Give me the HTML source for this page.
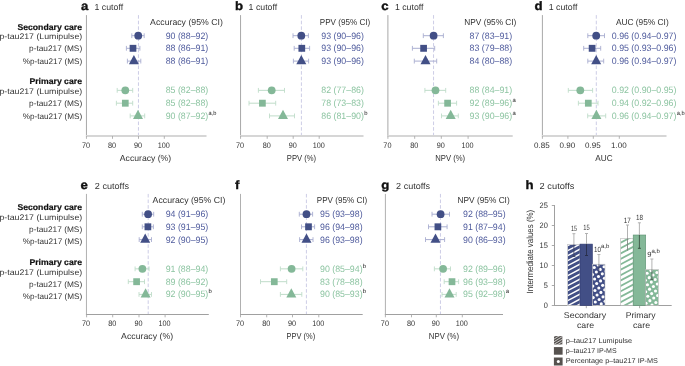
<!DOCTYPE html>
<html><head><meta charset="utf-8"><title>Figure</title>
<style>html,body{margin:0;padding:0;background:#fff;} body{width:685px;height:366px;overflow:hidden;font-family:"Liberation Sans", sans-serif;} svg{display:block;will-change:transform;}</style>
</head><body>
<svg width="685" height="366" viewBox="0 0 685 366" font-family='"Liberation Sans", sans-serif' text-rendering="geometricPrecision">
<rect width="685" height="366" fill="#fff"/><defs><clipPath id="cb1"><rect x="567.5" y="244.4" width="12.50" height="61.10"/></clipPath><clipPath id="cb3"><rect x="592.4" y="264.2" width="12.60" height="41.30"/></clipPath><clipPath id="cg1"><rect x="620.7" y="238.3" width="12.50" height="67.20"/></clipPath><clipPath id="cg3"><rect x="645.7" y="269.6" width="12.80" height="35.90"/></clipPath><clipPath id="cl1"><rect x="553.9" y="336.1" width="8.70" height="8.60"/></clipPath></defs>
<line x1="138.45" y1="15.1" x2="138.45" y2="136.0" stroke="#cdcde6" stroke-width="1" stroke-dasharray="3.6 2.0"/>
<line x1="86.45" y1="15.1" x2="86.45" y2="136.0" stroke="#a8a8a8" stroke-width="1.0"/>
<line x1="85.95" y1="136.0" x2="206.5" y2="136.0" stroke="#d6d6d6" stroke-width="2.0"/>
<line x1="86.45" y1="136.0" x2="86.45" y2="138.8" stroke="#aaaaaa" stroke-width="0.9"/>
<text x="85.95" y="147.7" font-size="8.0" fill="#333333" text-anchor="middle" textLength="8.1" lengthAdjust="spacingAndGlyphs">70</text>
<line x1="112.5" y1="136.0" x2="112.5" y2="138.8" stroke="#aaaaaa" stroke-width="0.9"/>
<text x="112.0" y="147.7" font-size="8.0" fill="#333333" text-anchor="middle" textLength="8.1" lengthAdjust="spacingAndGlyphs">80</text>
<line x1="138.5" y1="136.0" x2="138.5" y2="138.8" stroke="#aaaaaa" stroke-width="0.9"/>
<text x="138.0" y="147.7" font-size="8.0" fill="#333333" text-anchor="middle" textLength="8.1" lengthAdjust="spacingAndGlyphs">90</text>
<line x1="164.3" y1="136.0" x2="164.3" y2="138.8" stroke="#aaaaaa" stroke-width="0.9"/>
<text x="163.8" y="147.7" font-size="8.0" fill="#333333" text-anchor="middle" textLength="12.1" lengthAdjust="spacingAndGlyphs">100</text>
<text x="145.5" y="160.5" font-size="8.6" fill="#333333" text-anchor="middle" textLength="51.3" lengthAdjust="spacingAndGlyphs">Accuracy (%)</text>
<text x="80.9" y="9.5" font-size="12" fill="#111111" font-weight="700" textLength="7.34" lengthAdjust="spacingAndGlyphs" stroke="#111" stroke-width="0.35">a</text>
<text x="94.5" y="9.5" font-size="8.7" fill="#333333" textLength="28.6" lengthAdjust="spacingAndGlyphs">1 cutoff</text>
<text x="150.1" y="25.2" font-size="8.7" fill="#333333" textLength="72.7" lengthAdjust="spacingAndGlyphs">Accuracy (95% CI)</text>
<line x1="131.8" y1="35.7" x2="144.2" y2="35.7" stroke="#a9aed0" stroke-width="1"/>
<line x1="131.8" y1="33.300000000000004" x2="131.8" y2="38.1" stroke="#a9aed0" stroke-width="0.9"/>
<line x1="144.2" y1="33.300000000000004" x2="144.2" y2="38.1" stroke="#a9aed0" stroke-width="0.9"/>
<circle cx="138.25" cy="35.7" r="3.9" fill="#424f86"/>
<text x="165.7" y="38.7" font-size="9.2" fill="#4e5a9c" textLength="42.57" lengthAdjust="spacingAndGlyphs">90 (88–92)</text>
<line x1="126.4" y1="48.3" x2="139.9" y2="48.3" stroke="#a9aed0" stroke-width="1"/>
<line x1="126.4" y1="45.9" x2="126.4" y2="50.699999999999996" stroke="#a9aed0" stroke-width="0.9"/>
<line x1="139.9" y1="45.9" x2="139.9" y2="50.699999999999996" stroke="#a9aed0" stroke-width="0.9"/>
<rect x="129.65" y="44.85" width="6.7" height="6.9" fill="#424f86"/>
<text x="165.7" y="51.4" font-size="9.2" fill="#4e5a9c" textLength="42.57" lengthAdjust="spacingAndGlyphs">88 (86–91)</text>
<line x1="127.4" y1="61.1" x2="140.8" y2="61.1" stroke="#a9aed0" stroke-width="1"/>
<line x1="127.4" y1="58.7" x2="127.4" y2="63.5" stroke="#a9aed0" stroke-width="0.9"/>
<line x1="140.8" y1="58.7" x2="140.8" y2="63.5" stroke="#a9aed0" stroke-width="0.9"/>
<polygon points="128.90,64.20 138.90,64.20 133.90,54.90" fill="#424f86"/>
<text x="165.7" y="64.2" font-size="9.2" fill="#4e5a9c" textLength="42.57" lengthAdjust="spacingAndGlyphs">88 (86–91)</text>
<line x1="117.2" y1="90.35" x2="132.7" y2="90.35" stroke="#bfdcc9" stroke-width="1"/>
<line x1="117.2" y1="87.94999999999999" x2="117.2" y2="92.75" stroke="#bfdcc9" stroke-width="0.9"/>
<line x1="132.7" y1="87.94999999999999" x2="132.7" y2="92.75" stroke="#bfdcc9" stroke-width="0.9"/>
<circle cx="125.3" cy="90.35" r="3.9" fill="#84b898"/>
<text x="165.7" y="93.3" font-size="9.2" fill="#8cc4a1" textLength="42.57" lengthAdjust="spacingAndGlyphs">85 (82–88)</text>
<line x1="116.4" y1="103.2" x2="132.7" y2="103.2" stroke="#bfdcc9" stroke-width="1"/>
<line x1="116.4" y1="100.8" x2="116.4" y2="105.60000000000001" stroke="#bfdcc9" stroke-width="0.9"/>
<line x1="132.7" y1="100.8" x2="132.7" y2="105.60000000000001" stroke="#bfdcc9" stroke-width="0.9"/>
<rect x="121.95" y="99.75" width="6.7" height="6.9" fill="#84b898"/>
<text x="165.7" y="106.0" font-size="9.2" fill="#8cc4a1" textLength="42.57" lengthAdjust="spacingAndGlyphs">85 (82–88)</text>
<line x1="130.2" y1="115.9" x2="144.7" y2="115.9" stroke="#bfdcc9" stroke-width="1"/>
<line x1="130.2" y1="113.5" x2="130.2" y2="118.30000000000001" stroke="#bfdcc9" stroke-width="0.9"/>
<line x1="144.7" y1="113.5" x2="144.7" y2="118.30000000000001" stroke="#bfdcc9" stroke-width="0.9"/>
<polygon points="133.00,119.00 143.00,119.00 138.00,109.70" fill="#84b898"/>
<text x="165.7" y="118.7" font-size="9.2" fill="#8cc4a1" textLength="42.57" lengthAdjust="spacingAndGlyphs">90 (87–92)</text>
<text x="208.57" y="114.8" font-size="5.9" fill="#222" textLength="7.9" lengthAdjust="spacingAndGlyphs">a,b</text>
<line x1="301.4" y1="15.1" x2="301.4" y2="136.0" stroke="#cdcde6" stroke-width="1" stroke-dasharray="3.6 2.0"/>
<line x1="240.55" y1="15.1" x2="240.55" y2="136.0" stroke="#a8a8a8" stroke-width="1.0"/>
<line x1="240.05" y1="136.0" x2="363.5" y2="136.0" stroke="#d6d6d6" stroke-width="2.0"/>
<line x1="240.55" y1="136.0" x2="240.55" y2="138.8" stroke="#aaaaaa" stroke-width="0.9"/>
<text x="240.05" y="147.7" font-size="8.0" fill="#333333" text-anchor="middle" textLength="8.1" lengthAdjust="spacingAndGlyphs">70</text>
<line x1="267.2" y1="136.0" x2="267.2" y2="138.8" stroke="#aaaaaa" stroke-width="0.9"/>
<text x="266.7" y="147.7" font-size="8.0" fill="#333333" text-anchor="middle" textLength="8.1" lengthAdjust="spacingAndGlyphs">80</text>
<line x1="293.2" y1="136.0" x2="293.2" y2="138.8" stroke="#aaaaaa" stroke-width="0.9"/>
<text x="292.7" y="147.7" font-size="8.0" fill="#333333" text-anchor="middle" textLength="8.1" lengthAdjust="spacingAndGlyphs">90</text>
<line x1="319.2" y1="136.0" x2="319.2" y2="138.8" stroke="#aaaaaa" stroke-width="0.9"/>
<text x="318.7" y="147.7" font-size="8.0" fill="#333333" text-anchor="middle" textLength="12.1" lengthAdjust="spacingAndGlyphs">100</text>
<text x="301.5" y="160.5" font-size="8.6" fill="#333333" text-anchor="middle" textLength="29.3" lengthAdjust="spacingAndGlyphs">PPV (%)</text>
<text x="234.9" y="9.5" font-size="12" fill="#111111" font-weight="700" textLength="8.06" lengthAdjust="spacingAndGlyphs" stroke="#111" stroke-width="0.35">b</text>
<text x="248.6" y="9.5" font-size="8.7" fill="#333333" textLength="28.6" lengthAdjust="spacingAndGlyphs">1 cutoff</text>
<text x="319.8" y="25.2" font-size="8.7" fill="#333333" textLength="50.4" lengthAdjust="spacingAndGlyphs">PPV (95% CI)</text>
<line x1="293.0" y1="35.7" x2="308.4" y2="35.7" stroke="#a9aed0" stroke-width="1"/>
<line x1="293.0" y1="33.300000000000004" x2="293.0" y2="38.1" stroke="#a9aed0" stroke-width="0.9"/>
<line x1="308.4" y1="33.300000000000004" x2="308.4" y2="38.1" stroke="#a9aed0" stroke-width="0.9"/>
<circle cx="301.3" cy="35.7" r="3.9" fill="#424f86"/>
<text x="321.3" y="38.7" font-size="9.2" fill="#4e5a9c" textLength="42.57" lengthAdjust="spacingAndGlyphs">93 (90–96)</text>
<line x1="294.2" y1="48.3" x2="309.6" y2="48.3" stroke="#a9aed0" stroke-width="1"/>
<line x1="294.2" y1="45.9" x2="294.2" y2="50.699999999999996" stroke="#a9aed0" stroke-width="0.9"/>
<line x1="309.6" y1="45.9" x2="309.6" y2="50.699999999999996" stroke="#a9aed0" stroke-width="0.9"/>
<rect x="298.45" y="44.85" width="6.7" height="6.9" fill="#424f86"/>
<text x="321.3" y="51.4" font-size="9.2" fill="#4e5a9c" textLength="42.57" lengthAdjust="spacingAndGlyphs">93 (90–96)</text>
<line x1="293.4" y1="61.1" x2="308.6" y2="61.1" stroke="#a9aed0" stroke-width="1"/>
<line x1="293.4" y1="58.7" x2="293.4" y2="63.5" stroke="#a9aed0" stroke-width="0.9"/>
<line x1="308.6" y1="58.7" x2="308.6" y2="63.5" stroke="#a9aed0" stroke-width="0.9"/>
<polygon points="296.30,64.20 306.30,64.20 301.30,54.90" fill="#424f86"/>
<text x="321.3" y="64.2" font-size="9.2" fill="#4e5a9c" textLength="42.57" lengthAdjust="spacingAndGlyphs">93 (90–96)</text>
<line x1="258.4" y1="90.35" x2="284.5" y2="90.35" stroke="#bfdcc9" stroke-width="1"/>
<line x1="258.4" y1="87.94999999999999" x2="258.4" y2="92.75" stroke="#bfdcc9" stroke-width="0.9"/>
<line x1="284.5" y1="87.94999999999999" x2="284.5" y2="92.75" stroke="#bfdcc9" stroke-width="0.9"/>
<circle cx="271.7" cy="90.35" r="3.9" fill="#84b898"/>
<text x="321.3" y="93.3" font-size="9.2" fill="#8cc4a1" textLength="42.57" lengthAdjust="spacingAndGlyphs">82 (77–86)</text>
<line x1="249.0" y1="103.2" x2="275.7" y2="103.2" stroke="#bfdcc9" stroke-width="1"/>
<line x1="249.0" y1="100.8" x2="249.0" y2="105.60000000000001" stroke="#bfdcc9" stroke-width="0.9"/>
<line x1="275.7" y1="100.8" x2="275.7" y2="105.60000000000001" stroke="#bfdcc9" stroke-width="0.9"/>
<rect x="259.05" y="99.75" width="6.7" height="6.9" fill="#84b898"/>
<text x="321.3" y="106.0" font-size="9.2" fill="#8cc4a1" textLength="42.57" lengthAdjust="spacingAndGlyphs">78 (73–83)</text>
<line x1="269.5" y1="115.9" x2="294.5" y2="115.9" stroke="#bfdcc9" stroke-width="1"/>
<line x1="269.5" y1="113.5" x2="269.5" y2="118.30000000000001" stroke="#bfdcc9" stroke-width="0.9"/>
<line x1="294.5" y1="113.5" x2="294.5" y2="118.30000000000001" stroke="#bfdcc9" stroke-width="0.9"/>
<polygon points="278.00,119.00 288.00,119.00 283.00,109.70" fill="#84b898"/>
<text x="321.3" y="118.7" font-size="9.2" fill="#8cc4a1" textLength="42.57" lengthAdjust="spacingAndGlyphs">86 (81–90)</text>
<text x="364.17" y="114.8" font-size="5.9" fill="#222">b</text>
<line x1="433.55" y1="15.1" x2="433.55" y2="136.0" stroke="#cdcde6" stroke-width="1" stroke-dasharray="3.6 2.0"/>
<line x1="387.9" y1="15.1" x2="387.9" y2="136.0" stroke="#a8a8a8" stroke-width="1.0"/>
<line x1="387.4" y1="136.0" x2="512.7" y2="136.0" stroke="#d6d6d6" stroke-width="2.0"/>
<line x1="387.9" y1="136.0" x2="387.9" y2="138.8" stroke="#aaaaaa" stroke-width="0.9"/>
<text x="387.4" y="147.7" font-size="8.0" fill="#333333" text-anchor="middle" textLength="8.1" lengthAdjust="spacingAndGlyphs">70</text>
<line x1="414.7" y1="136.0" x2="414.7" y2="138.8" stroke="#aaaaaa" stroke-width="0.9"/>
<text x="414.2" y="147.7" font-size="8.0" fill="#333333" text-anchor="middle" textLength="8.1" lengthAdjust="spacingAndGlyphs">80</text>
<line x1="441.3" y1="136.0" x2="441.3" y2="138.8" stroke="#aaaaaa" stroke-width="0.9"/>
<text x="440.8" y="147.7" font-size="8.0" fill="#333333" text-anchor="middle" textLength="8.1" lengthAdjust="spacingAndGlyphs">90</text>
<line x1="468.1" y1="136.0" x2="468.1" y2="138.8" stroke="#aaaaaa" stroke-width="0.9"/>
<text x="467.6" y="147.7" font-size="8.0" fill="#333333" text-anchor="middle" textLength="12.1" lengthAdjust="spacingAndGlyphs">100</text>
<text x="450.2" y="160.5" font-size="8.6" fill="#333333" text-anchor="middle" textLength="29.9" lengthAdjust="spacingAndGlyphs">NPV (%)</text>
<text x="381.2" y="9.5" font-size="12" fill="#111111" font-weight="700" textLength="7.34" lengthAdjust="spacingAndGlyphs" stroke="#111" stroke-width="0.35">c</text>
<text x="394.9" y="9.5" font-size="8.7" fill="#333333" textLength="28.6" lengthAdjust="spacingAndGlyphs">1 cutoff</text>
<text x="464.3" y="25.2" font-size="8.7" fill="#333333" textLength="52.1" lengthAdjust="spacingAndGlyphs">NPV (95% CI)</text>
<line x1="423.3" y1="35.7" x2="443.4" y2="35.7" stroke="#a9aed0" stroke-width="1"/>
<line x1="423.3" y1="33.300000000000004" x2="423.3" y2="38.1" stroke="#a9aed0" stroke-width="0.9"/>
<line x1="443.4" y1="33.300000000000004" x2="443.4" y2="38.1" stroke="#a9aed0" stroke-width="0.9"/>
<circle cx="433.6" cy="35.7" r="3.9" fill="#424f86"/>
<text x="469.6" y="38.7" font-size="9.2" fill="#4e5a9c" textLength="42.57" lengthAdjust="spacingAndGlyphs">87 (83–91)</text>
<line x1="412.4" y1="48.3" x2="434.7" y2="48.3" stroke="#a9aed0" stroke-width="1"/>
<line x1="412.4" y1="45.9" x2="412.4" y2="50.699999999999996" stroke="#a9aed0" stroke-width="0.9"/>
<line x1="434.7" y1="45.9" x2="434.7" y2="50.699999999999996" stroke="#a9aed0" stroke-width="0.9"/>
<rect x="420.25" y="44.85" width="6.7" height="6.9" fill="#424f86"/>
<text x="469.6" y="51.4" font-size="9.2" fill="#4e5a9c" textLength="42.57" lengthAdjust="spacingAndGlyphs">83 (79–88)</text>
<line x1="414.3" y1="61.1" x2="436.7" y2="61.1" stroke="#a9aed0" stroke-width="1"/>
<line x1="414.3" y1="58.7" x2="414.3" y2="63.5" stroke="#a9aed0" stroke-width="0.9"/>
<line x1="436.7" y1="58.7" x2="436.7" y2="63.5" stroke="#a9aed0" stroke-width="0.9"/>
<polygon points="420.50,64.20 430.50,64.20 425.50,54.90" fill="#424f86"/>
<text x="469.6" y="64.2" font-size="9.2" fill="#4e5a9c" textLength="42.57" lengthAdjust="spacingAndGlyphs">84 (80–88)</text>
<line x1="424.9" y1="90.35" x2="445.7" y2="90.35" stroke="#bfdcc9" stroke-width="1"/>
<line x1="424.9" y1="87.94999999999999" x2="424.9" y2="92.75" stroke="#bfdcc9" stroke-width="0.9"/>
<line x1="445.7" y1="87.94999999999999" x2="445.7" y2="92.75" stroke="#bfdcc9" stroke-width="0.9"/>
<circle cx="435.5" cy="90.35" r="3.9" fill="#84b898"/>
<text x="469.6" y="93.3" font-size="9.2" fill="#8cc4a1" textLength="42.57" lengthAdjust="spacingAndGlyphs">88 (84–91)</text>
<line x1="438.4" y1="103.2" x2="456.6" y2="103.2" stroke="#bfdcc9" stroke-width="1"/>
<line x1="438.4" y1="100.8" x2="438.4" y2="105.60000000000001" stroke="#bfdcc9" stroke-width="0.9"/>
<line x1="456.6" y1="100.8" x2="456.6" y2="105.60000000000001" stroke="#bfdcc9" stroke-width="0.9"/>
<rect x="444.25" y="99.75" width="6.7" height="6.9" fill="#84b898"/>
<text x="469.6" y="106.0" font-size="9.2" fill="#8cc4a1" textLength="42.57" lengthAdjust="spacingAndGlyphs">92 (89–96)</text>
<text x="512.47" y="102.1" font-size="5.9" fill="#222">a</text>
<line x1="441.5" y1="115.9" x2="458.3" y2="115.9" stroke="#bfdcc9" stroke-width="1"/>
<line x1="441.5" y1="113.5" x2="441.5" y2="118.30000000000001" stroke="#bfdcc9" stroke-width="0.9"/>
<line x1="458.3" y1="113.5" x2="458.3" y2="118.30000000000001" stroke="#bfdcc9" stroke-width="0.9"/>
<polygon points="445.70,119.00 455.70,119.00 450.70,109.70" fill="#84b898"/>
<text x="469.6" y="118.7" font-size="9.2" fill="#8cc4a1" textLength="42.57" lengthAdjust="spacingAndGlyphs">93 (90–96)</text>
<text x="512.47" y="114.8" font-size="5.9" fill="#222">a</text>
<line x1="596.3" y1="15.1" x2="596.3" y2="136.0" stroke="#cdcde6" stroke-width="1" stroke-dasharray="3.6 2.0"/>
<line x1="542.4" y1="15.1" x2="542.4" y2="136.0" stroke="#a8a8a8" stroke-width="1.0"/>
<line x1="541.9" y1="136.0" x2="666.5" y2="136.0" stroke="#d6d6d6" stroke-width="2.0"/>
<line x1="542.4" y1="136.0" x2="542.4" y2="138.8" stroke="#aaaaaa" stroke-width="0.9"/>
<text x="541.9" y="147.7" font-size="8.0" fill="#333333" text-anchor="middle" textLength="15.6" lengthAdjust="spacingAndGlyphs">0.85</text>
<line x1="567.9" y1="136.0" x2="567.9" y2="138.8" stroke="#aaaaaa" stroke-width="0.9"/>
<text x="567.4" y="147.7" font-size="8.0" fill="#333333" text-anchor="middle" textLength="15.6" lengthAdjust="spacingAndGlyphs">0.90</text>
<line x1="593.3" y1="136.0" x2="593.3" y2="138.8" stroke="#aaaaaa" stroke-width="0.9"/>
<text x="592.8" y="147.7" font-size="8.0" fill="#333333" text-anchor="middle" textLength="15.6" lengthAdjust="spacingAndGlyphs">0.95</text>
<line x1="619.3" y1="136.0" x2="619.3" y2="138.8" stroke="#aaaaaa" stroke-width="0.9"/>
<text x="618.8" y="147.7" font-size="8.0" fill="#333333" text-anchor="middle" textLength="15.6" lengthAdjust="spacingAndGlyphs">1.00</text>
<text x="603.9" y="160.5" font-size="8.6" fill="#333333" text-anchor="middle" textLength="17.3" lengthAdjust="spacingAndGlyphs">AUC</text>
<text x="534.6" y="9.5" font-size="12" fill="#111111" font-weight="700" textLength="8.06" lengthAdjust="spacingAndGlyphs" stroke="#111" stroke-width="0.35">d</text>
<text x="548.8" y="9.5" font-size="8.7" fill="#333333" textLength="28.6" lengthAdjust="spacingAndGlyphs">1 cutoff</text>
<text x="615.9" y="25.2" font-size="8.7" fill="#333333" textLength="52.8" lengthAdjust="spacingAndGlyphs">AUC (95% CI)</text>
<line x1="587.8" y1="35.7" x2="604.5" y2="35.7" stroke="#a9aed0" stroke-width="1"/>
<line x1="587.8" y1="33.300000000000004" x2="587.8" y2="38.1" stroke="#a9aed0" stroke-width="0.9"/>
<line x1="604.5" y1="33.300000000000004" x2="604.5" y2="38.1" stroke="#a9aed0" stroke-width="0.9"/>
<circle cx="596.2" cy="35.7" r="3.9" fill="#424f86"/>
<text x="611.8" y="38.7" font-size="9.2" fill="#4e5a9c" textLength="64.58" lengthAdjust="spacingAndGlyphs">0.96 (0.94–0.97)</text>
<line x1="583.7" y1="48.3" x2="600.7" y2="48.3" stroke="#a9aed0" stroke-width="1"/>
<line x1="583.7" y1="45.9" x2="583.7" y2="50.699999999999996" stroke="#a9aed0" stroke-width="0.9"/>
<line x1="600.7" y1="45.9" x2="600.7" y2="50.699999999999996" stroke="#a9aed0" stroke-width="0.9"/>
<rect x="588.75" y="44.85" width="6.7" height="6.9" fill="#424f86"/>
<text x="611.8" y="51.4" font-size="9.2" fill="#4e5a9c" textLength="64.58" lengthAdjust="spacingAndGlyphs">0.95 (0.93–0.96)</text>
<line x1="587.8" y1="61.1" x2="603.7" y2="61.1" stroke="#a9aed0" stroke-width="1"/>
<line x1="587.8" y1="58.7" x2="587.8" y2="63.5" stroke="#a9aed0" stroke-width="0.9"/>
<line x1="603.7" y1="58.7" x2="603.7" y2="63.5" stroke="#a9aed0" stroke-width="0.9"/>
<polygon points="591.20,64.20 601.20,64.20 596.20,54.90" fill="#424f86"/>
<text x="611.8" y="64.2" font-size="9.2" fill="#4e5a9c" textLength="64.58" lengthAdjust="spacingAndGlyphs">0.96 (0.94–0.97)</text>
<line x1="568.3" y1="90.35" x2="592.6" y2="90.35" stroke="#bfdcc9" stroke-width="1"/>
<line x1="568.3" y1="87.94999999999999" x2="568.3" y2="92.75" stroke="#bfdcc9" stroke-width="0.9"/>
<line x1="592.6" y1="87.94999999999999" x2="592.6" y2="92.75" stroke="#bfdcc9" stroke-width="0.9"/>
<circle cx="580.3" cy="90.35" r="3.9" fill="#84b898"/>
<text x="611.8" y="93.3" font-size="9.2" fill="#8cc4a1" textLength="64.58" lengthAdjust="spacingAndGlyphs">0.92 (0.90–0.95)</text>
<line x1="578.4" y1="103.2" x2="598.0" y2="103.2" stroke="#bfdcc9" stroke-width="1"/>
<line x1="578.4" y1="100.8" x2="578.4" y2="105.60000000000001" stroke="#bfdcc9" stroke-width="0.9"/>
<line x1="598.0" y1="100.8" x2="598.0" y2="105.60000000000001" stroke="#bfdcc9" stroke-width="0.9"/>
<rect x="584.95" y="99.75" width="6.7" height="6.9" fill="#84b898"/>
<text x="611.8" y="106.0" font-size="9.2" fill="#8cc4a1" textLength="64.58" lengthAdjust="spacingAndGlyphs">0.94 (0.92–0.96)</text>
<line x1="587.7" y1="115.9" x2="605.7" y2="115.9" stroke="#bfdcc9" stroke-width="1"/>
<line x1="587.7" y1="113.5" x2="587.7" y2="118.30000000000001" stroke="#bfdcc9" stroke-width="0.9"/>
<line x1="605.7" y1="113.5" x2="605.7" y2="118.30000000000001" stroke="#bfdcc9" stroke-width="0.9"/>
<polygon points="591.40,119.00 601.40,119.00 596.40,109.70" fill="#84b898"/>
<text x="611.8" y="118.7" font-size="9.2" fill="#8cc4a1" textLength="64.58" lengthAdjust="spacingAndGlyphs">0.96 (0.94–0.97)</text>
<text x="676.68" y="114.8" font-size="5.9" fill="#222" textLength="7.9" lengthAdjust="spacingAndGlyphs">a,b</text>
<line x1="148.2" y1="193.9" x2="148.2" y2="314.5" stroke="#cdcde6" stroke-width="1" stroke-dasharray="3.6 2.0"/>
<line x1="86.45" y1="193.9" x2="86.45" y2="315.0" stroke="#b0b0b0" stroke-width="1.0"/>
<line x1="85.95" y1="314.5" x2="208.8" y2="314.5" stroke="#a0a0a0" stroke-width="1.0"/>
<line x1="86.6" y1="314.5" x2="86.6" y2="317.3" stroke="#aaaaaa" stroke-width="0.9"/>
<text x="86.1" y="325.8" font-size="8.0" fill="#333333" text-anchor="middle" textLength="8.1" lengthAdjust="spacingAndGlyphs">70</text>
<line x1="112.7" y1="314.5" x2="112.7" y2="317.3" stroke="#aaaaaa" stroke-width="0.9"/>
<text x="112.2" y="325.8" font-size="8.0" fill="#333333" text-anchor="middle" textLength="8.1" lengthAdjust="spacingAndGlyphs">80</text>
<line x1="139.0" y1="314.5" x2="139.0" y2="317.3" stroke="#aaaaaa" stroke-width="0.9"/>
<text x="138.5" y="325.8" font-size="8.0" fill="#333333" text-anchor="middle" textLength="8.1" lengthAdjust="spacingAndGlyphs">90</text>
<line x1="165.1" y1="314.5" x2="165.1" y2="317.3" stroke="#aaaaaa" stroke-width="0.9"/>
<text x="164.6" y="325.8" font-size="8.0" fill="#333333" text-anchor="middle" textLength="12.1" lengthAdjust="spacingAndGlyphs">100</text>
<text x="147.1" y="339.1" font-size="8.6" fill="#333333" text-anchor="middle" textLength="52.0" lengthAdjust="spacingAndGlyphs">Accuracy (%)</text>
<text x="80.6" y="189.2" font-size="12" fill="#111111" font-weight="700" textLength="7.34" lengthAdjust="spacingAndGlyphs" stroke="#111" stroke-width="0.35">e</text>
<text x="94.8" y="189.2" font-size="8.7" fill="#333333" textLength="34.2" lengthAdjust="spacingAndGlyphs">2 cutoffs</text>
<text x="152.6" y="202.5" font-size="8.7" fill="#333333" textLength="72.8" lengthAdjust="spacingAndGlyphs">Accuracy (95% CI)</text>
<line x1="142.3" y1="214.2" x2="153.7" y2="214.2" stroke="#a9aed0" stroke-width="1"/>
<line x1="142.3" y1="211.79999999999998" x2="142.3" y2="216.6" stroke="#a9aed0" stroke-width="0.9"/>
<line x1="153.7" y1="211.79999999999998" x2="153.7" y2="216.6" stroke="#a9aed0" stroke-width="0.9"/>
<circle cx="148.1" cy="214.2" r="3.9" fill="#424f86"/>
<text x="165.7" y="217.2" font-size="9.2" fill="#4e5a9c" textLength="42.57" lengthAdjust="spacingAndGlyphs">94 (91–96)</text>
<line x1="142.3" y1="226.8" x2="153.4" y2="226.8" stroke="#a9aed0" stroke-width="1"/>
<line x1="142.3" y1="224.4" x2="142.3" y2="229.20000000000002" stroke="#a9aed0" stroke-width="0.9"/>
<line x1="153.4" y1="224.4" x2="153.4" y2="229.20000000000002" stroke="#a9aed0" stroke-width="0.9"/>
<rect x="144.55" y="223.35" width="6.7" height="6.9" fill="#424f86"/>
<text x="165.7" y="229.9" font-size="9.2" fill="#4e5a9c" textLength="42.57" lengthAdjust="spacingAndGlyphs">93 (91–95)</text>
<line x1="139.2" y1="239.6" x2="151.5" y2="239.6" stroke="#a9aed0" stroke-width="1"/>
<line x1="139.2" y1="237.2" x2="139.2" y2="242.0" stroke="#a9aed0" stroke-width="0.9"/>
<line x1="151.5" y1="237.2" x2="151.5" y2="242.0" stroke="#a9aed0" stroke-width="0.9"/>
<polygon points="140.20,242.70 150.20,242.70 145.20,233.40" fill="#424f86"/>
<text x="165.7" y="242.7" font-size="9.2" fill="#4e5a9c" textLength="42.57" lengthAdjust="spacingAndGlyphs">92 (90–95)</text>
<line x1="135.1" y1="268.85" x2="149.1" y2="268.85" stroke="#bfdcc9" stroke-width="1"/>
<line x1="135.1" y1="266.45000000000005" x2="135.1" y2="271.25" stroke="#bfdcc9" stroke-width="0.9"/>
<line x1="149.1" y1="266.45000000000005" x2="149.1" y2="271.25" stroke="#bfdcc9" stroke-width="0.9"/>
<circle cx="142.4" cy="268.85" r="3.9" fill="#84b898"/>
<text x="165.7" y="271.8" font-size="9.2" fill="#8cc4a1" textLength="42.57" lengthAdjust="spacingAndGlyphs">91 (88–94)</text>
<line x1="128.3" y1="281.7" x2="144.5" y2="281.7" stroke="#bfdcc9" stroke-width="1"/>
<line x1="128.3" y1="279.3" x2="128.3" y2="284.09999999999997" stroke="#bfdcc9" stroke-width="0.9"/>
<line x1="144.5" y1="279.3" x2="144.5" y2="284.09999999999997" stroke="#bfdcc9" stroke-width="0.9"/>
<rect x="133.25" y="278.25" width="6.7" height="6.9" fill="#84b898"/>
<text x="165.7" y="284.5" font-size="9.2" fill="#8cc4a1" textLength="42.57" lengthAdjust="spacingAndGlyphs">89 (86–92)</text>
<line x1="139.0" y1="294.4" x2="151.5" y2="294.4" stroke="#bfdcc9" stroke-width="1"/>
<line x1="139.0" y1="292.0" x2="139.0" y2="296.79999999999995" stroke="#bfdcc9" stroke-width="0.9"/>
<line x1="151.5" y1="292.0" x2="151.5" y2="296.79999999999995" stroke="#bfdcc9" stroke-width="0.9"/>
<polygon points="140.60,297.50 150.60,297.50 145.60,288.20" fill="#84b898"/>
<text x="165.7" y="297.2" font-size="9.2" fill="#8cc4a1" textLength="42.57" lengthAdjust="spacingAndGlyphs">92 (90–95)</text>
<text x="208.57" y="293.3" font-size="5.9" fill="#222">b</text>
<line x1="306.4" y1="193.9" x2="306.4" y2="314.5" stroke="#cdcde6" stroke-width="1" stroke-dasharray="3.6 2.0"/>
<line x1="240.5" y1="193.9" x2="240.5" y2="315.0" stroke="#b0b0b0" stroke-width="1.0"/>
<line x1="240.0" y1="314.5" x2="362.7" y2="314.5" stroke="#a0a0a0" stroke-width="1.0"/>
<line x1="240.5" y1="314.5" x2="240.5" y2="317.3" stroke="#aaaaaa" stroke-width="0.9"/>
<text x="240.0" y="325.8" font-size="8.0" fill="#333333" text-anchor="middle" textLength="8.1" lengthAdjust="spacingAndGlyphs">70</text>
<line x1="266.7" y1="314.5" x2="266.7" y2="317.3" stroke="#aaaaaa" stroke-width="0.9"/>
<text x="266.2" y="325.8" font-size="8.0" fill="#333333" text-anchor="middle" textLength="8.1" lengthAdjust="spacingAndGlyphs">80</text>
<line x1="292.5" y1="314.5" x2="292.5" y2="317.3" stroke="#aaaaaa" stroke-width="0.9"/>
<text x="292.0" y="325.8" font-size="8.0" fill="#333333" text-anchor="middle" textLength="8.1" lengthAdjust="spacingAndGlyphs">90</text>
<line x1="318.8" y1="314.5" x2="318.8" y2="317.3" stroke="#aaaaaa" stroke-width="0.9"/>
<text x="318.3" y="325.8" font-size="8.0" fill="#333333" text-anchor="middle" textLength="12.1" lengthAdjust="spacingAndGlyphs">100</text>
<text x="300.9" y="339.1" font-size="8.6" fill="#333333" text-anchor="middle" textLength="28.6" lengthAdjust="spacingAndGlyphs">PPV (%)</text>
<text x="234.9" y="189.2" font-size="12" fill="#111111" font-weight="700" textLength="4.4" lengthAdjust="spacingAndGlyphs" stroke="#111" stroke-width="0.35">f</text>
<text x="316.8" y="202.5" font-size="8.7" fill="#333333" textLength="50.4" lengthAdjust="spacingAndGlyphs">PPV (95% CI)</text>
<line x1="299.3" y1="214.2" x2="312.6" y2="214.2" stroke="#a9aed0" stroke-width="1"/>
<line x1="299.3" y1="211.79999999999998" x2="299.3" y2="216.6" stroke="#a9aed0" stroke-width="0.9"/>
<line x1="312.6" y1="211.79999999999998" x2="312.6" y2="216.6" stroke="#a9aed0" stroke-width="0.9"/>
<circle cx="306.5" cy="214.2" r="3.9" fill="#424f86"/>
<text x="320.0" y="217.2" font-size="9.2" fill="#4e5a9c" textLength="42.57" lengthAdjust="spacingAndGlyphs">95 (93–98)</text>
<line x1="301.5" y1="226.8" x2="314.6" y2="226.8" stroke="#a9aed0" stroke-width="1"/>
<line x1="301.5" y1="224.4" x2="301.5" y2="229.20000000000002" stroke="#a9aed0" stroke-width="0.9"/>
<line x1="314.6" y1="224.4" x2="314.6" y2="229.20000000000002" stroke="#a9aed0" stroke-width="0.9"/>
<rect x="305.15" y="223.35" width="6.7" height="6.9" fill="#424f86"/>
<text x="320.0" y="229.9" font-size="9.2" fill="#4e5a9c" textLength="42.57" lengthAdjust="spacingAndGlyphs">96 (94–98)</text>
<line x1="299.6" y1="239.6" x2="313.0" y2="239.6" stroke="#a9aed0" stroke-width="1"/>
<line x1="299.6" y1="237.2" x2="299.6" y2="242.0" stroke="#a9aed0" stroke-width="0.9"/>
<line x1="313.0" y1="237.2" x2="313.0" y2="242.0" stroke="#a9aed0" stroke-width="0.9"/>
<polygon points="301.50,242.70 311.50,242.70 306.50,233.40" fill="#424f86"/>
<text x="320.0" y="242.7" font-size="9.2" fill="#4e5a9c" textLength="42.57" lengthAdjust="spacingAndGlyphs">96 (93–98)</text>
<line x1="280.4" y1="268.85" x2="302.8" y2="268.85" stroke="#bfdcc9" stroke-width="1"/>
<line x1="280.4" y1="266.45000000000005" x2="280.4" y2="271.25" stroke="#bfdcc9" stroke-width="0.9"/>
<line x1="302.8" y1="266.45000000000005" x2="302.8" y2="271.25" stroke="#bfdcc9" stroke-width="0.9"/>
<circle cx="291.6" cy="268.85" r="3.9" fill="#84b898"/>
<text x="320.0" y="271.8" font-size="9.2" fill="#8cc4a1" textLength="42.57" lengthAdjust="spacingAndGlyphs">90 (85–94)</text>
<text x="362.87" y="267.9" font-size="5.9" fill="#222">b</text>
<line x1="260.5" y1="281.7" x2="286.7" y2="281.7" stroke="#bfdcc9" stroke-width="1"/>
<line x1="260.5" y1="279.3" x2="260.5" y2="284.09999999999997" stroke="#bfdcc9" stroke-width="0.9"/>
<line x1="286.7" y1="279.3" x2="286.7" y2="284.09999999999997" stroke="#bfdcc9" stroke-width="0.9"/>
<rect x="270.95" y="278.25" width="6.7" height="6.9" fill="#84b898"/>
<text x="320.0" y="284.5" font-size="9.2" fill="#8cc4a1" textLength="42.57" lengthAdjust="spacingAndGlyphs">83 (78–88)</text>
<line x1="280.4" y1="294.4" x2="301.8" y2="294.4" stroke="#bfdcc9" stroke-width="1"/>
<line x1="280.4" y1="292.0" x2="280.4" y2="296.79999999999995" stroke="#bfdcc9" stroke-width="0.9"/>
<line x1="301.8" y1="292.0" x2="301.8" y2="296.79999999999995" stroke="#bfdcc9" stroke-width="0.9"/>
<polygon points="286.30,297.50 296.30,297.50 291.30,288.20" fill="#84b898"/>
<text x="320.0" y="297.2" font-size="9.2" fill="#8cc4a1" textLength="42.57" lengthAdjust="spacingAndGlyphs">90 (85–93)</text>
<text x="362.87" y="293.3" font-size="5.9" fill="#222">b</text>
<line x1="440.45" y1="193.9" x2="440.45" y2="314.5" stroke="#cdcde6" stroke-width="1" stroke-dasharray="3.6 2.0"/>
<line x1="385.4" y1="193.9" x2="385.4" y2="315.0" stroke="#b0b0b0" stroke-width="1.0"/>
<line x1="384.9" y1="314.5" x2="503.0" y2="314.5" stroke="#a0a0a0" stroke-width="1.0"/>
<line x1="385.4" y1="314.5" x2="385.4" y2="317.3" stroke="#aaaaaa" stroke-width="0.9"/>
<text x="384.9" y="325.8" font-size="8.0" fill="#333333" text-anchor="middle" textLength="8.1" lengthAdjust="spacingAndGlyphs">70</text>
<line x1="411.5" y1="314.5" x2="411.5" y2="317.3" stroke="#aaaaaa" stroke-width="0.9"/>
<text x="411.0" y="325.8" font-size="8.0" fill="#333333" text-anchor="middle" textLength="8.1" lengthAdjust="spacingAndGlyphs">80</text>
<line x1="436.3" y1="314.5" x2="436.3" y2="317.3" stroke="#aaaaaa" stroke-width="0.9"/>
<text x="435.8" y="325.8" font-size="8.0" fill="#333333" text-anchor="middle" textLength="8.1" lengthAdjust="spacingAndGlyphs">90</text>
<line x1="462.3" y1="314.5" x2="462.3" y2="317.3" stroke="#aaaaaa" stroke-width="0.9"/>
<text x="461.8" y="325.8" font-size="8.0" fill="#333333" text-anchor="middle" textLength="12.1" lengthAdjust="spacingAndGlyphs">100</text>
<text x="444.0" y="339.1" font-size="8.6" fill="#333333" text-anchor="middle" textLength="30.3" lengthAdjust="spacingAndGlyphs">NPV (%)</text>
<text x="381.2" y="189.2" font-size="12" fill="#111111" font-weight="700" textLength="8.06" lengthAdjust="spacingAndGlyphs" stroke="#111" stroke-width="0.35">g</text>
<text x="396.1" y="189.2" font-size="8.7" fill="#333333" textLength="34.0" lengthAdjust="spacingAndGlyphs">2 cutoffs</text>
<text x="457.6" y="202.5" font-size="8.7" fill="#333333" textLength="52.1" lengthAdjust="spacingAndGlyphs">NPV (95% CI)</text>
<line x1="432.0" y1="214.2" x2="449.5" y2="214.2" stroke="#a9aed0" stroke-width="1"/>
<line x1="432.0" y1="211.79999999999998" x2="432.0" y2="216.6" stroke="#a9aed0" stroke-width="0.9"/>
<line x1="449.5" y1="211.79999999999998" x2="449.5" y2="216.6" stroke="#a9aed0" stroke-width="0.9"/>
<circle cx="440.6" cy="214.2" r="3.9" fill="#424f86"/>
<text x="463.0" y="217.2" font-size="9.2" fill="#4e5a9c" textLength="42.57" lengthAdjust="spacingAndGlyphs">92 (88–95)</text>
<line x1="428.5" y1="226.8" x2="447.1" y2="226.8" stroke="#a9aed0" stroke-width="1"/>
<line x1="428.5" y1="224.4" x2="428.5" y2="229.20000000000002" stroke="#a9aed0" stroke-width="0.9"/>
<line x1="447.1" y1="224.4" x2="447.1" y2="229.20000000000002" stroke="#a9aed0" stroke-width="0.9"/>
<rect x="434.55" y="223.35" width="6.7" height="6.9" fill="#424f86"/>
<text x="463.0" y="229.9" font-size="9.2" fill="#4e5a9c" textLength="42.57" lengthAdjust="spacingAndGlyphs">91 (87–94)</text>
<line x1="425.5" y1="239.6" x2="444.6" y2="239.6" stroke="#a9aed0" stroke-width="1"/>
<line x1="425.5" y1="237.2" x2="425.5" y2="242.0" stroke="#a9aed0" stroke-width="0.9"/>
<line x1="444.6" y1="237.2" x2="444.6" y2="242.0" stroke="#a9aed0" stroke-width="0.9"/>
<polygon points="430.50,242.70 440.50,242.70 435.50,233.40" fill="#424f86"/>
<text x="463.0" y="242.7" font-size="9.2" fill="#4e5a9c" textLength="42.57" lengthAdjust="spacingAndGlyphs">90 (86–93)</text>
<line x1="434.4" y1="268.85" x2="450.5" y2="268.85" stroke="#bfdcc9" stroke-width="1"/>
<line x1="434.4" y1="266.45000000000005" x2="434.4" y2="271.25" stroke="#bfdcc9" stroke-width="0.9"/>
<line x1="450.5" y1="266.45000000000005" x2="450.5" y2="271.25" stroke="#bfdcc9" stroke-width="0.9"/>
<circle cx="443.1" cy="268.85" r="3.9" fill="#84b898"/>
<text x="463.0" y="271.8" font-size="9.2" fill="#8cc4a1" textLength="42.57" lengthAdjust="spacingAndGlyphs">92 (89–96)</text>
<line x1="444.2" y1="281.7" x2="458.6" y2="281.7" stroke="#bfdcc9" stroke-width="1"/>
<line x1="444.2" y1="279.3" x2="444.2" y2="284.09999999999997" stroke="#bfdcc9" stroke-width="0.9"/>
<line x1="458.6" y1="279.3" x2="458.6" y2="284.09999999999997" stroke="#bfdcc9" stroke-width="0.9"/>
<rect x="448.65" y="278.25" width="6.7" height="6.9" fill="#84b898"/>
<text x="463.0" y="284.5" font-size="9.2" fill="#8cc4a1" textLength="42.57" lengthAdjust="spacingAndGlyphs">96 (93–98)</text>
<line x1="442.0" y1="294.4" x2="456.2" y2="294.4" stroke="#bfdcc9" stroke-width="1"/>
<line x1="442.0" y1="292.0" x2="442.0" y2="296.79999999999995" stroke="#bfdcc9" stroke-width="0.9"/>
<line x1="456.2" y1="292.0" x2="456.2" y2="296.79999999999995" stroke="#bfdcc9" stroke-width="0.9"/>
<polygon points="444.50,297.50 454.50,297.50 449.50,288.20" fill="#84b898"/>
<text x="463.0" y="297.2" font-size="9.2" fill="#8cc4a1" textLength="42.57" lengthAdjust="spacingAndGlyphs">95 (92–98)</text>
<text x="505.87" y="293.3" font-size="5.9" fill="#222">a</text>
<text x="82.0" y="29.6" font-size="8.4" fill="#111111" text-anchor="end" font-weight="700" textLength="64.6" lengthAdjust="spacingAndGlyphs" stroke="#111" stroke-width="0.2">Secondary care</text>
<text x="82.2" y="38.8" font-size="8.1" fill="#333333" text-anchor="end" textLength="82.8" lengthAdjust="spacingAndGlyphs">p-tau217 (Lumipulse)</text>
<text x="82.2" y="51.1" font-size="8.1" fill="#333333" text-anchor="end" textLength="53.2" lengthAdjust="spacingAndGlyphs">p-tau217 (MS)</text>
<text x="82.2" y="63.5" font-size="8.1" fill="#333333" text-anchor="end" textLength="59.5" lengthAdjust="spacingAndGlyphs">%p-tau217 (MS)</text>
<text x="82.0" y="84.2" font-size="8.4" fill="#111111" text-anchor="end" font-weight="700" textLength="52.6" lengthAdjust="spacingAndGlyphs" stroke="#111" stroke-width="0.2">Primary care</text>
<text x="82.2" y="93.9" font-size="8.1" fill="#333333" text-anchor="end" textLength="82.8" lengthAdjust="spacingAndGlyphs">p-tau217 (Lumipulse)</text>
<text x="82.2" y="106.2" font-size="8.1" fill="#333333" text-anchor="end" textLength="53.2" lengthAdjust="spacingAndGlyphs">p-tau217 (MS)</text>
<text x="82.2" y="118.5" font-size="8.1" fill="#333333" text-anchor="end" textLength="59.5" lengthAdjust="spacingAndGlyphs">%p-tau217 (MS)</text>
<text x="82.0" y="209.9" font-size="8.4" fill="#111111" text-anchor="end" font-weight="700" textLength="64.6" lengthAdjust="spacingAndGlyphs" stroke="#111" stroke-width="0.2">Secondary care</text>
<text x="82.2" y="220.3" font-size="8.1" fill="#333333" text-anchor="end" textLength="82.8" lengthAdjust="spacingAndGlyphs">p-tau217 (Lumipulse)</text>
<text x="82.2" y="232.3" font-size="8.1" fill="#333333" text-anchor="end" textLength="53.2" lengthAdjust="spacingAndGlyphs">p-tau217 (MS)</text>
<text x="82.2" y="244.3" font-size="8.1" fill="#333333" text-anchor="end" textLength="59.5" lengthAdjust="spacingAndGlyphs">%p-tau217 (MS)</text>
<text x="82.0" y="264.9" font-size="8.4" fill="#111111" text-anchor="end" font-weight="700" textLength="52.6" lengthAdjust="spacingAndGlyphs" stroke="#111" stroke-width="0.2">Primary care</text>
<text x="82.2" y="275.4" font-size="8.1" fill="#333333" text-anchor="end" textLength="82.8" lengthAdjust="spacingAndGlyphs">p-tau217 (Lumipulse)</text>
<text x="82.2" y="287.4" font-size="8.1" fill="#333333" text-anchor="end" textLength="53.2" lengthAdjust="spacingAndGlyphs">p-tau217 (MS)</text>
<text x="82.2" y="299.3" font-size="8.1" fill="#333333" text-anchor="end" textLength="59.5" lengthAdjust="spacingAndGlyphs">%p-tau217 (MS)</text>
<text x="525.5" y="189.2" font-size="12" fill="#111111" font-weight="700" textLength="8.06" lengthAdjust="spacingAndGlyphs" stroke="#111" stroke-width="0.35">h</text>
<text x="539.6" y="189.2" font-size="8.7" fill="#333333" textLength="34.9" lengthAdjust="spacingAndGlyphs">2 cutoffs</text>
<line x1="554.5" y1="205.0" x2="554.5" y2="305.5" stroke="#a0a0a0" stroke-width="1"/>
<line x1="554.0" y1="305.5" x2="671.7" y2="305.5" stroke="#a0a0a0" stroke-width="1"/>
<line x1="551.8" y1="305.5" x2="554.5" y2="305.5" stroke="#a0a0a0" stroke-width="0.9"/>
<text x="547.9" y="308.25" font-size="7.9" fill="#333333" text-anchor="end" textLength="4.1" lengthAdjust="spacingAndGlyphs">0</text>
<line x1="551.8" y1="285.5" x2="554.5" y2="285.5" stroke="#a0a0a0" stroke-width="0.9"/>
<text x="547.9" y="288.25" font-size="7.9" fill="#333333" text-anchor="end" textLength="4.1" lengthAdjust="spacingAndGlyphs">5</text>
<line x1="551.8" y1="265.5" x2="554.5" y2="265.5" stroke="#a0a0a0" stroke-width="0.9"/>
<text x="547.9" y="268.25" font-size="7.9" fill="#333333" text-anchor="end" textLength="8.3" lengthAdjust="spacingAndGlyphs">10</text>
<line x1="551.8" y1="245.5" x2="554.5" y2="245.5" stroke="#a0a0a0" stroke-width="0.9"/>
<text x="547.9" y="248.25" font-size="7.9" fill="#333333" text-anchor="end" textLength="8.3" lengthAdjust="spacingAndGlyphs">15</text>
<line x1="551.8" y1="225.5" x2="554.5" y2="225.5" stroke="#a0a0a0" stroke-width="0.9"/>
<text x="547.9" y="228.25" font-size="7.9" fill="#333333" text-anchor="end" textLength="8.3" lengthAdjust="spacingAndGlyphs">20</text>
<line x1="551.8" y1="205.5" x2="554.5" y2="205.5" stroke="#a0a0a0" stroke-width="0.9"/>
<text x="547.9" y="208.25" font-size="7.9" fill="#333333" text-anchor="end" textLength="8.3" lengthAdjust="spacingAndGlyphs">25</text>
<line x1="586.3" y1="305.5" x2="586.3" y2="308.2" stroke="#a0a0a0" stroke-width="0.9"/>
<line x1="639.6" y1="305.5" x2="639.6" y2="308.2" stroke="#a0a0a0" stroke-width="0.9"/>
<text transform="translate(532.8,251.6) rotate(-90)" font-size="9" fill="#333333" text-anchor="middle" textLength="83.6" lengthAdjust="spacingAndGlyphs">Intermediate values (%)</text>
<text x="585.0" y="318.2" font-size="8.4" fill="#333333" text-anchor="middle" textLength="42.3" lengthAdjust="spacingAndGlyphs">Secondary</text>
<text x="585.5" y="327.7" font-size="8.4" fill="#333333" text-anchor="middle" textLength="17.0" lengthAdjust="spacingAndGlyphs">care</text>
<text x="640.6" y="318.2" font-size="8.4" fill="#333333" text-anchor="middle" textLength="29.7" lengthAdjust="spacingAndGlyphs">Primary</text>
<text x="641.5" y="327.7" font-size="8.4" fill="#333333" text-anchor="middle" textLength="17.0" lengthAdjust="spacingAndGlyphs">care</text>
<g clip-path="url(#cb1)"><rect x="567.5" y="244.4" width="12.50" height="61.10" fill="#424f86"/>
<line x1="566.5" y1="146.33" x2="581.0" y2="138.62" stroke="#ffffff" stroke-width="1.41"/>
<line x1="566.5" y1="151.33" x2="581.0" y2="143.62" stroke="#ffffff" stroke-width="1.41"/>
<line x1="566.5" y1="156.33" x2="581.0" y2="148.62" stroke="#ffffff" stroke-width="1.41"/>
<line x1="566.5" y1="161.33" x2="581.0" y2="153.62" stroke="#ffffff" stroke-width="1.41"/>
<line x1="566.5" y1="166.33" x2="581.0" y2="158.62" stroke="#ffffff" stroke-width="1.41"/>
<line x1="566.5" y1="171.33" x2="581.0" y2="163.62" stroke="#ffffff" stroke-width="1.41"/>
<line x1="566.5" y1="176.33" x2="581.0" y2="168.62" stroke="#ffffff" stroke-width="1.41"/>
<line x1="566.5" y1="181.33" x2="581.0" y2="173.62" stroke="#ffffff" stroke-width="1.41"/>
<line x1="566.5" y1="186.33" x2="581.0" y2="178.62" stroke="#ffffff" stroke-width="1.41"/>
<line x1="566.5" y1="191.33" x2="581.0" y2="183.62" stroke="#ffffff" stroke-width="1.41"/>
<line x1="566.5" y1="196.33" x2="581.0" y2="188.62" stroke="#ffffff" stroke-width="1.41"/>
<line x1="566.5" y1="201.33" x2="581.0" y2="193.62" stroke="#ffffff" stroke-width="1.41"/>
<line x1="566.5" y1="206.33" x2="581.0" y2="198.62" stroke="#ffffff" stroke-width="1.41"/>
<line x1="566.5" y1="211.33" x2="581.0" y2="203.62" stroke="#ffffff" stroke-width="1.41"/>
<line x1="566.5" y1="216.33" x2="581.0" y2="208.62" stroke="#ffffff" stroke-width="1.41"/>
<line x1="566.5" y1="221.33" x2="581.0" y2="213.62" stroke="#ffffff" stroke-width="1.41"/>
<line x1="566.5" y1="226.33" x2="581.0" y2="218.62" stroke="#ffffff" stroke-width="1.41"/>
<line x1="566.5" y1="231.33" x2="581.0" y2="223.62" stroke="#ffffff" stroke-width="1.41"/>
<line x1="566.5" y1="236.33" x2="581.0" y2="228.62" stroke="#ffffff" stroke-width="1.41"/>
<line x1="566.5" y1="241.33" x2="581.0" y2="233.62" stroke="#ffffff" stroke-width="1.41"/>
<line x1="566.5" y1="246.33" x2="581.0" y2="238.62" stroke="#ffffff" stroke-width="1.41"/>
<line x1="566.5" y1="251.33" x2="581.0" y2="243.62" stroke="#ffffff" stroke-width="1.41"/>
<line x1="566.5" y1="256.33" x2="581.0" y2="248.62" stroke="#ffffff" stroke-width="1.41"/>
<line x1="566.5" y1="261.33" x2="581.0" y2="253.62" stroke="#ffffff" stroke-width="1.41"/>
<line x1="566.5" y1="266.33" x2="581.0" y2="258.62" stroke="#ffffff" stroke-width="1.41"/>
<line x1="566.5" y1="271.33" x2="581.0" y2="263.62" stroke="#ffffff" stroke-width="1.41"/>
<line x1="566.5" y1="276.33" x2="581.0" y2="268.62" stroke="#ffffff" stroke-width="1.41"/>
<line x1="566.5" y1="281.33" x2="581.0" y2="273.62" stroke="#ffffff" stroke-width="1.41"/>
<line x1="566.5" y1="286.33" x2="581.0" y2="278.62" stroke="#ffffff" stroke-width="1.41"/>
<line x1="566.5" y1="291.33" x2="581.0" y2="283.62" stroke="#ffffff" stroke-width="1.41"/>
<line x1="566.5" y1="296.33" x2="581.0" y2="288.62" stroke="#ffffff" stroke-width="1.41"/>
<line x1="566.5" y1="301.33" x2="581.0" y2="293.62" stroke="#ffffff" stroke-width="1.41"/>
<line x1="566.5" y1="306.33" x2="581.0" y2="298.62" stroke="#ffffff" stroke-width="1.41"/>
<line x1="566.5" y1="311.33" x2="581.0" y2="303.62" stroke="#ffffff" stroke-width="1.41"/>
<line x1="566.5" y1="316.33" x2="581.0" y2="308.62" stroke="#ffffff" stroke-width="1.41"/>
</g>
<rect x="567.5" y="244.4" width="12.50" height="61.10" fill="none" stroke="#c8c8c8" stroke-width="0.6"/>
<rect x="580.0" y="244.1" width="12.4" height="61.40" fill="#424f86" stroke="#2f3a70" stroke-width="0.6"/>
<g clip-path="url(#cb3)"><rect x="592.4" y="264.2" width="12.60" height="41.30" fill="#424f86"/>
<circle cx="591.45" cy="304.65" r="1.55" fill="#ffffff"/>
<circle cx="591.10" cy="293.15" r="1.55" fill="#ffffff"/>
<circle cx="593.20" cy="297.60" r="1.55" fill="#ffffff"/>
<circle cx="595.30" cy="302.05" r="1.55" fill="#ffffff"/>
<circle cx="597.40" cy="306.50" r="1.55" fill="#ffffff"/>
<circle cx="590.75" cy="281.65" r="1.55" fill="#ffffff"/>
<circle cx="592.85" cy="286.10" r="1.55" fill="#ffffff"/>
<circle cx="594.95" cy="290.55" r="1.55" fill="#ffffff"/>
<circle cx="597.05" cy="295.00" r="1.55" fill="#ffffff"/>
<circle cx="599.15" cy="299.45" r="1.55" fill="#ffffff"/>
<circle cx="601.25" cy="303.90" r="1.55" fill="#ffffff"/>
<circle cx="590.40" cy="270.15" r="1.55" fill="#ffffff"/>
<circle cx="592.50" cy="274.60" r="1.55" fill="#ffffff"/>
<circle cx="594.60" cy="279.05" r="1.55" fill="#ffffff"/>
<circle cx="596.70" cy="283.50" r="1.55" fill="#ffffff"/>
<circle cx="598.80" cy="287.95" r="1.55" fill="#ffffff"/>
<circle cx="600.90" cy="292.40" r="1.55" fill="#ffffff"/>
<circle cx="603.00" cy="296.85" r="1.55" fill="#ffffff"/>
<circle cx="605.10" cy="301.30" r="1.55" fill="#ffffff"/>
<circle cx="592.15" cy="263.10" r="1.55" fill="#ffffff"/>
<circle cx="594.25" cy="267.55" r="1.55" fill="#ffffff"/>
<circle cx="596.35" cy="272.00" r="1.55" fill="#ffffff"/>
<circle cx="598.45" cy="276.45" r="1.55" fill="#ffffff"/>
<circle cx="600.55" cy="280.90" r="1.55" fill="#ffffff"/>
<circle cx="602.65" cy="285.35" r="1.55" fill="#ffffff"/>
<circle cx="604.75" cy="289.80" r="1.55" fill="#ffffff"/>
<circle cx="606.85" cy="294.25" r="1.55" fill="#ffffff"/>
<circle cx="598.10" cy="264.95" r="1.55" fill="#ffffff"/>
<circle cx="600.20" cy="269.40" r="1.55" fill="#ffffff"/>
<circle cx="602.30" cy="273.85" r="1.55" fill="#ffffff"/>
<circle cx="604.40" cy="278.30" r="1.55" fill="#ffffff"/>
<circle cx="606.50" cy="282.75" r="1.55" fill="#ffffff"/>
<circle cx="601.95" cy="262.35" r="1.55" fill="#ffffff"/>
<circle cx="604.05" cy="266.80" r="1.55" fill="#ffffff"/>
<circle cx="606.15" cy="271.25" r="1.55" fill="#ffffff"/>
</g>
<rect x="592.4" y="264.2" width="12.60" height="41.30" fill="none" stroke="#c8c8c8" stroke-width="0.6"/>
<g clip-path="url(#cg1)"><rect x="620.7" y="238.3" width="12.50" height="67.20" fill="#ffffff"/>
<line x1="619.7" y1="135.23" x2="634.2" y2="127.52" stroke="#84b898" stroke-width="1.77"/>
<line x1="619.7" y1="140.63" x2="634.2" y2="132.92" stroke="#84b898" stroke-width="1.77"/>
<line x1="619.7" y1="146.03" x2="634.2" y2="138.32" stroke="#84b898" stroke-width="1.77"/>
<line x1="619.7" y1="151.43" x2="634.2" y2="143.72" stroke="#84b898" stroke-width="1.77"/>
<line x1="619.7" y1="156.83" x2="634.2" y2="149.12" stroke="#84b898" stroke-width="1.77"/>
<line x1="619.7" y1="162.23" x2="634.2" y2="154.52" stroke="#84b898" stroke-width="1.77"/>
<line x1="619.7" y1="167.63" x2="634.2" y2="159.92" stroke="#84b898" stroke-width="1.77"/>
<line x1="619.7" y1="173.03" x2="634.2" y2="165.32" stroke="#84b898" stroke-width="1.77"/>
<line x1="619.7" y1="178.43" x2="634.2" y2="170.72" stroke="#84b898" stroke-width="1.77"/>
<line x1="619.7" y1="183.83" x2="634.2" y2="176.12" stroke="#84b898" stroke-width="1.77"/>
<line x1="619.7" y1="189.23" x2="634.2" y2="181.52" stroke="#84b898" stroke-width="1.77"/>
<line x1="619.7" y1="194.63" x2="634.2" y2="186.92" stroke="#84b898" stroke-width="1.77"/>
<line x1="619.7" y1="200.03" x2="634.2" y2="192.32" stroke="#84b898" stroke-width="1.77"/>
<line x1="619.7" y1="205.43" x2="634.2" y2="197.72" stroke="#84b898" stroke-width="1.77"/>
<line x1="619.7" y1="210.83" x2="634.2" y2="203.12" stroke="#84b898" stroke-width="1.77"/>
<line x1="619.7" y1="216.23" x2="634.2" y2="208.52" stroke="#84b898" stroke-width="1.77"/>
<line x1="619.7" y1="221.63" x2="634.2" y2="213.92" stroke="#84b898" stroke-width="1.77"/>
<line x1="619.7" y1="227.03" x2="634.2" y2="219.32" stroke="#84b898" stroke-width="1.77"/>
<line x1="619.7" y1="232.43" x2="634.2" y2="224.72" stroke="#84b898" stroke-width="1.77"/>
<line x1="619.7" y1="237.83" x2="634.2" y2="230.12" stroke="#84b898" stroke-width="1.77"/>
<line x1="619.7" y1="243.23" x2="634.2" y2="235.52" stroke="#84b898" stroke-width="1.77"/>
<line x1="619.7" y1="248.63" x2="634.2" y2="240.92" stroke="#84b898" stroke-width="1.77"/>
<line x1="619.7" y1="254.03" x2="634.2" y2="246.32" stroke="#84b898" stroke-width="1.77"/>
<line x1="619.7" y1="259.43" x2="634.2" y2="251.72" stroke="#84b898" stroke-width="1.77"/>
<line x1="619.7" y1="264.83" x2="634.2" y2="257.12" stroke="#84b898" stroke-width="1.77"/>
<line x1="619.7" y1="270.23" x2="634.2" y2="262.52" stroke="#84b898" stroke-width="1.77"/>
<line x1="619.7" y1="275.63" x2="634.2" y2="267.92" stroke="#84b898" stroke-width="1.77"/>
<line x1="619.7" y1="281.03" x2="634.2" y2="273.32" stroke="#84b898" stroke-width="1.77"/>
<line x1="619.7" y1="286.43" x2="634.2" y2="278.72" stroke="#84b898" stroke-width="1.77"/>
<line x1="619.7" y1="291.83" x2="634.2" y2="284.12" stroke="#84b898" stroke-width="1.77"/>
<line x1="619.7" y1="297.23" x2="634.2" y2="289.52" stroke="#84b898" stroke-width="1.77"/>
<line x1="619.7" y1="302.63" x2="634.2" y2="294.92" stroke="#84b898" stroke-width="1.77"/>
<line x1="619.7" y1="308.03" x2="634.2" y2="300.32" stroke="#84b898" stroke-width="1.77"/>
<line x1="619.7" y1="313.43" x2="634.2" y2="305.72" stroke="#84b898" stroke-width="1.77"/>
</g>
<rect x="620.7" y="238.3" width="12.50" height="67.20" fill="none" stroke="#b8b8b8" stroke-width="0.6"/>
<rect x="633.2" y="235.0" width="12.5" height="70.50" fill="#84b898" stroke="#5a8f70" stroke-width="0.6"/>
<g clip-path="url(#cg3)"><rect x="645.7" y="269.6" width="12.80" height="35.90" fill="#84b898"/>
<circle cx="643.95" cy="298.80" r="1.55" fill="#ffffff"/>
<circle cx="646.05" cy="303.25" r="1.55" fill="#ffffff"/>
<circle cx="645.70" cy="291.75" r="1.55" fill="#ffffff"/>
<circle cx="647.80" cy="296.20" r="1.55" fill="#ffffff"/>
<circle cx="649.90" cy="300.65" r="1.55" fill="#ffffff"/>
<circle cx="652.00" cy="305.10" r="1.55" fill="#ffffff"/>
<circle cx="645.35" cy="280.25" r="1.55" fill="#ffffff"/>
<circle cx="647.45" cy="284.70" r="1.55" fill="#ffffff"/>
<circle cx="649.55" cy="289.15" r="1.55" fill="#ffffff"/>
<circle cx="651.65" cy="293.60" r="1.55" fill="#ffffff"/>
<circle cx="653.75" cy="298.05" r="1.55" fill="#ffffff"/>
<circle cx="655.85" cy="302.50" r="1.55" fill="#ffffff"/>
<circle cx="657.95" cy="306.95" r="1.55" fill="#ffffff"/>
<circle cx="645.00" cy="268.75" r="1.55" fill="#ffffff"/>
<circle cx="647.10" cy="273.20" r="1.55" fill="#ffffff"/>
<circle cx="649.20" cy="277.65" r="1.55" fill="#ffffff"/>
<circle cx="651.30" cy="282.10" r="1.55" fill="#ffffff"/>
<circle cx="653.40" cy="286.55" r="1.55" fill="#ffffff"/>
<circle cx="655.50" cy="291.00" r="1.55" fill="#ffffff"/>
<circle cx="657.60" cy="295.45" r="1.55" fill="#ffffff"/>
<circle cx="659.70" cy="299.90" r="1.55" fill="#ffffff"/>
<circle cx="650.95" cy="270.60" r="1.55" fill="#ffffff"/>
<circle cx="653.05" cy="275.05" r="1.55" fill="#ffffff"/>
<circle cx="655.15" cy="279.50" r="1.55" fill="#ffffff"/>
<circle cx="657.25" cy="283.95" r="1.55" fill="#ffffff"/>
<circle cx="659.35" cy="288.40" r="1.55" fill="#ffffff"/>
<circle cx="654.80" cy="268.00" r="1.55" fill="#ffffff"/>
<circle cx="656.90" cy="272.45" r="1.55" fill="#ffffff"/>
<circle cx="659.00" cy="276.90" r="1.55" fill="#ffffff"/>
</g>
<rect x="645.7" y="269.6" width="12.80" height="35.90" fill="none" stroke="#b8b8b8" stroke-width="0.6"/>
<line x1="573.9" y1="233.7" x2="573.9" y2="244.4" stroke="#aaaaaa" stroke-width="0.9"/>
<line x1="573.9" y1="244.4" x2="573.9" y2="256.4" stroke="#3a3f5e" stroke-width="0.8"/>
<line x1="572.4" y1="233.7" x2="575.4" y2="233.7" stroke="#aaaaaa" stroke-width="0.9"/>
<line x1="572.4" y1="256.4" x2="575.4" y2="256.4" stroke="#3a3f5e" stroke-width="0.9"/>
<line x1="586.5" y1="233.5" x2="586.5" y2="244.1" stroke="#aaaaaa" stroke-width="0.9"/>
<line x1="586.5" y1="244.1" x2="586.5" y2="255.5" stroke="#262b45" stroke-width="0.8"/>
<line x1="585.0" y1="233.5" x2="588.0" y2="233.5" stroke="#aaaaaa" stroke-width="0.9"/>
<line x1="585.0" y1="255.5" x2="588.0" y2="255.5" stroke="#262b45" stroke-width="0.9"/>
<line x1="598.9" y1="254.5" x2="598.9" y2="264.2" stroke="#aaaaaa" stroke-width="0.9"/>
<line x1="598.9" y1="264.2" x2="598.9" y2="274.0" stroke="#3a3f5e" stroke-width="0.8"/>
<line x1="597.4" y1="254.5" x2="600.4" y2="254.5" stroke="#aaaaaa" stroke-width="0.9"/>
<line x1="597.4" y1="274.0" x2="600.4" y2="274.0" stroke="#3a3f5e" stroke-width="0.9"/>
<line x1="627.5" y1="225.0" x2="627.5" y2="238.3" stroke="#aaaaaa" stroke-width="0.9"/>
<line x1="627.5" y1="238.3" x2="627.5" y2="250.6" stroke="#7a7a7a" stroke-width="0.8"/>
<line x1="626.0" y1="225.0" x2="629.0" y2="225.0" stroke="#aaaaaa" stroke-width="0.9"/>
<line x1="639.4" y1="222.8" x2="639.4" y2="235.0" stroke="#aaaaaa" stroke-width="0.9"/>
<line x1="639.4" y1="235.0" x2="639.4" y2="248.3" stroke="#33473b" stroke-width="0.8"/>
<line x1="637.9" y1="222.8" x2="640.9" y2="222.8" stroke="#aaaaaa" stroke-width="0.9"/>
<line x1="637.9" y1="248.3" x2="640.9" y2="248.3" stroke="#33473b" stroke-width="0.9"/>
<line x1="651.9" y1="259.0" x2="651.9" y2="269.6" stroke="#aaaaaa" stroke-width="0.9"/>
<line x1="651.9" y1="269.6" x2="651.9" y2="279.4" stroke="#4a5a50" stroke-width="0.8"/>
<line x1="650.4" y1="259.0" x2="653.4" y2="259.0" stroke="#aaaaaa" stroke-width="0.9"/>
<line x1="650.4" y1="279.4" x2="653.4" y2="279.4" stroke="#4a5a50" stroke-width="0.9"/>
<text x="574.0" y="230.8" font-size="7.6" fill="#333333" text-anchor="middle" textLength="6.1" lengthAdjust="spacingAndGlyphs">15</text>
<text x="586.4" y="230.3" font-size="7.6" fill="#333333" text-anchor="middle" textLength="6.4" lengthAdjust="spacingAndGlyphs">15</text>
<text x="594.0" y="251.5" font-size="7.6" fill="#333333"><tspan textLength="6.9" lengthAdjust="spacingAndGlyphs">10</tspan><tspan font-size="6" dy="-3.3">a,b</tspan></text>
<text x="627.3" y="222.8" font-size="7.6" fill="#333333" text-anchor="middle" textLength="7.0" lengthAdjust="spacingAndGlyphs">17</text>
<text x="639.6" y="220.2" font-size="7.6" fill="#333333" text-anchor="middle" textLength="7.0" lengthAdjust="spacingAndGlyphs">18</text>
<text x="647.3" y="256.8" font-size="7.6" fill="#333333">9<tspan font-size="6" dy="-3.3">a,b</tspan></text>
<g clip-path="url(#cl1)"><rect x="553.9" y="336.1" width="8.70" height="8.60" fill="#56524f"/>
<line x1="552.9" y1="285.22" x2="563.6" y2="278.54" stroke="#ffffff" stroke-width="0.68"/>
<line x1="552.9" y1="287.82" x2="563.6" y2="281.14" stroke="#ffffff" stroke-width="0.68"/>
<line x1="552.9" y1="290.42" x2="563.6" y2="283.74" stroke="#ffffff" stroke-width="0.68"/>
<line x1="552.9" y1="293.02" x2="563.6" y2="286.34" stroke="#ffffff" stroke-width="0.68"/>
<line x1="552.9" y1="295.62" x2="563.6" y2="288.94" stroke="#ffffff" stroke-width="0.68"/>
<line x1="552.9" y1="298.22" x2="563.6" y2="291.54" stroke="#ffffff" stroke-width="0.68"/>
<line x1="552.9" y1="300.82" x2="563.6" y2="294.14" stroke="#ffffff" stroke-width="0.68"/>
<line x1="552.9" y1="303.42" x2="563.6" y2="296.74" stroke="#ffffff" stroke-width="0.68"/>
<line x1="552.9" y1="306.02" x2="563.6" y2="299.34" stroke="#ffffff" stroke-width="0.68"/>
<line x1="552.9" y1="308.62" x2="563.6" y2="301.94" stroke="#ffffff" stroke-width="0.68"/>
<line x1="552.9" y1="311.22" x2="563.6" y2="304.54" stroke="#ffffff" stroke-width="0.68"/>
<line x1="552.9" y1="313.82" x2="563.6" y2="307.14" stroke="#ffffff" stroke-width="0.68"/>
<line x1="552.9" y1="316.42" x2="563.6" y2="309.74" stroke="#ffffff" stroke-width="0.68"/>
<line x1="552.9" y1="319.02" x2="563.6" y2="312.34" stroke="#ffffff" stroke-width="0.68"/>
<line x1="552.9" y1="321.62" x2="563.6" y2="314.94" stroke="#ffffff" stroke-width="0.68"/>
<line x1="552.9" y1="324.22" x2="563.6" y2="317.54" stroke="#ffffff" stroke-width="0.68"/>
<line x1="552.9" y1="326.82" x2="563.6" y2="320.14" stroke="#ffffff" stroke-width="0.68"/>
<line x1="552.9" y1="329.42" x2="563.6" y2="322.74" stroke="#ffffff" stroke-width="0.68"/>
<line x1="552.9" y1="332.02" x2="563.6" y2="325.34" stroke="#ffffff" stroke-width="0.68"/>
<line x1="552.9" y1="334.62" x2="563.6" y2="327.94" stroke="#ffffff" stroke-width="0.68"/>
<line x1="552.9" y1="337.22" x2="563.6" y2="330.54" stroke="#ffffff" stroke-width="0.68"/>
<line x1="552.9" y1="339.82" x2="563.6" y2="333.14" stroke="#ffffff" stroke-width="0.68"/>
<line x1="552.9" y1="342.42" x2="563.6" y2="335.74" stroke="#ffffff" stroke-width="0.68"/>
<line x1="552.9" y1="345.02" x2="563.6" y2="338.34" stroke="#ffffff" stroke-width="0.68"/>
<line x1="552.9" y1="347.62" x2="563.6" y2="340.94" stroke="#ffffff" stroke-width="0.68"/>
<line x1="552.9" y1="350.22" x2="563.6" y2="343.54" stroke="#ffffff" stroke-width="0.68"/>
<line x1="552.9" y1="352.82" x2="563.6" y2="346.14" stroke="#ffffff" stroke-width="0.68"/>
</g>
<rect x="553.9" y="347.1" width="8.7" height="7.6" fill="#56524f"/>
<rect x="553.9" y="357.5" width="8.7" height="8.0" fill="#56524f"/>
<circle cx="558.3" cy="361.6" r="1.5" fill="#fff"/>
<text x="565.7" y="342.8" font-size="7.0" fill="#333333" textLength="66.3" lengthAdjust="spacingAndGlyphs">p–tau217 Lumipulse</text>
<text x="565.7" y="352.6" font-size="7.0" fill="#333333" textLength="51.0" lengthAdjust="spacingAndGlyphs">p–tau217 IP-MS</text>
<text x="565.7" y="362.9" font-size="7.0" fill="#333333" textLength="92.3" lengthAdjust="spacingAndGlyphs">Percentage p–tau217 IP-MS</text>
</svg>
</body></html>
